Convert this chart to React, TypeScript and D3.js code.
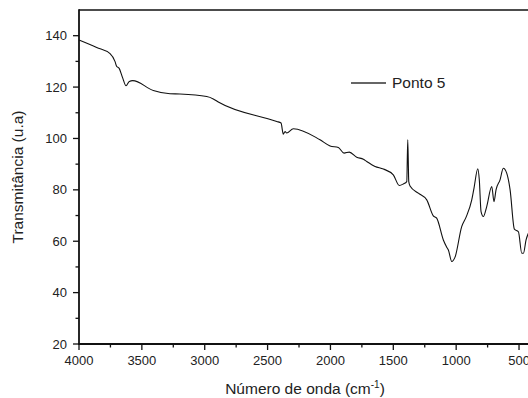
import React from "react";
import * as d3 from "d3";

// FTIR spectrum, sample "Ponto 5"
const wavenumbers = [
  4000, 3859, 3753, 3714, 3700, 3682, 3652, 3626, 3600, 3573, 3409, 3276, 3197,
  2984, 2932, 2892, 2427, 2393, 2375, 2361, 2348, 2295, 2083, 2003, 1937, 1892,
  1850, 1791, 1738, 1711, 1645, 1579, 1500, 1452, 1420, 1393, 1385, 1377, 1367,
  1301, 1234, 1182, 1155, 1102, 1075, 1062, 1035, 1009, 956, 921, 876, 858, 828,
  816, 802, 784, 757, 717, 699, 683, 651, 625, 598, 571, 537, 505, 478, 465, 444,
  426,
];
const transmittance = [
  138.3, 135.4, 133.0, 130.0, 128.0, 127.4, 123.5, 120.5, 122.2, 122.5, 118.7,
  117.4, 117.3, 116.3, 115.4, 114.2, 106.6, 106.0, 101.7, 102.7, 102.1, 103.8,
  99.5, 97.1, 96.5, 94.3, 94.7, 92.7, 91.9, 91.0, 89.1, 88.1, 85.8, 81.7, 82.3,
  83.2, 99.5, 83.2, 81.5, 78.7, 76.1, 69.9, 69.0, 60.5, 57.7, 56.6, 52.1, 53.8,
  65.7, 69.4, 76.1, 80.7, 88.2, 83.9, 71.5, 69.6, 73.5, 81.3, 75.4, 80.0, 83.9,
  88.4, 86.5, 80.0, 64.7, 63.7, 55.3, 55.3, 60.5, 63.1,
];

const xMajor = [4000, 3500, 3000, 2500, 2000, 1500, 1000, 500];
const xMinor = [3750, 3250, 2750, 2250, 1750, 1250, 750];
const yMajor = [20, 40, 60, 80, 100, 120, 140];
const yMinor = [30, 50, 70, 90, 110, 130];

const seriesName = "Ponto 5";
const xTitle = "Número de onda (cm";
const yTitle = "Transmitância (u.a)";

const W = 528;
const H = 398;
const left = 79;
const top = 10;
const bottom = 344;
const rightEnd = 531.6;

export default function App() {
  const x = d3.scaleLinear().domain([4000, 400]).range([left, rightEnd]);
  const y = d3.scaleLinear().domain([20, 150]).range([bottom, top]);

  const points = wavenumbers.map((w, i) => [w, transmittance[i]] as [number, number]);
  const line = d3
    .line<[number, number]>()
    .x((d) => x(d[0]))
    .y((d) => y(d[1]))
    .curve(d3.curveMonotoneX);

  const font = "'Liberation Sans', Arial, sans-serif";
  const axisColor = "#111";

  return (
    <svg
      width={W}
      height={H}
      style={{ position: "absolute", left: 0, top: 0, background: "#fff" }}
      fontFamily={font}
    >
      <rect x={0} y={0} width={W} height={H} fill="#fff" />
      {/* spectrum */}
      <path d={line(points) || ""} fill="none" stroke="#111" strokeWidth={1.1} />

      {/* frame */}
      <line x1={left} x2={W} y1={top} y2={top} stroke={axisColor} strokeWidth={1.6} />
      <line x1={left} x2={left} y1={top - 0.8} y2={bottom + 0.8} stroke={axisColor} strokeWidth={1.8} />
      <line x1={left - 0.8} x2={W} y1={bottom} y2={bottom} stroke={axisColor} strokeWidth={1.8} />

      {/* x axis ticks */}
      {xMajor.map((v) => (
        <g key={"xM" + v}>
          <line x1={x(v)} x2={x(v)} y1={bottom} y2={bottom + 6} stroke={axisColor} strokeWidth={1.3} />
          <text x={x(v)} y={365} fontSize={13} textAnchor="middle" fill="#222">
            {v}
          </text>
        </g>
      ))}
      {xMinor.map((v) => (
        <line key={"xm" + v} x1={x(v)} x2={x(v)} y1={bottom} y2={bottom + 3.5} stroke={axisColor} strokeWidth={1.3} />
      ))}

      {/* y axis ticks */}
      {yMajor.map((v) => (
        <g key={"yM" + v}>
          <line x1={left - 6} x2={left} y1={y(v)} y2={y(v)} stroke={axisColor} strokeWidth={1.3} />
          <text x={67} y={y(v) + 4.5} fontSize={13} textAnchor="end" fill="#222">
            {v}
          </text>
        </g>
      ))}
      {yMinor.map((v) => (
        <line key={"ym" + v} x1={left - 3.5} x2={left} y1={y(v)} y2={y(v)} stroke={axisColor} strokeWidth={1.3} />
      ))}

      {/* axis titles */}
      <text x={305} y={394} fontSize={15.5} textAnchor="middle" fill="#222">
        {xTitle}
        <tspan dy={-6} fontSize={10}>-1</tspan>
        <tspan dy={6}>)</tspan>
      </text>
      <text
        transform={`translate(22.5, ${y(85)}) rotate(-90)`}
        fontSize={15.5}
        textAnchor="middle"
        fill="#222"
      >
        {yTitle}
      </text>

      {/* legend */}
      <line x1={351} x2={386} y1={83} y2={83} stroke="#333" strokeWidth={1.3} />
      <text x={392} y={88} fontSize={15.5} fill="#222">
        {seriesName}
      </text>
    </svg>
  );
}
